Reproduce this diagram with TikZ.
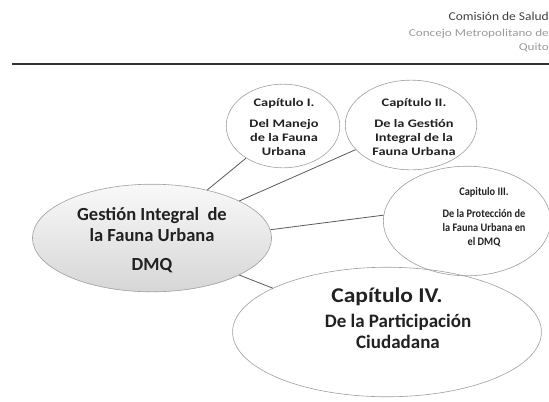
\documentclass[tikz,border=0pt]{standalone}
\usepackage{fontspec}
\setmainfont{Carlito}
\newfontfamily\ancha{Carlito}[FakeStretch=1.25]
\newfontfamily\media{Carlito}[FakeStretch=1.12]
\newfontfamily\estrecha{Carlito}[FakeStretch=0.9]
\usetikzlibrary{shapes.geometric}
\definecolor{tinta}{gray}{0.13}
\definecolor{borde}{gray}{0.62}
\tikzset{
  globo/.style={ellipse, draw=borde, line width=0.6bp, inner sep=0pt},
  texto/.style={align=center, text=tinta, inner sep=0pt},
  enlace/.style={draw=black!65, line width=0.8bp},
  cabecera/.style={anchor=base east, inner sep=0pt}
}
\begin{document}
\begin{tikzpicture}[x=1bp,y=-1bp]
\useasboundingbox (0,0) rectangle (549,401);
% Encabezado
\node[cabecera, text=black!75, font=\media\fontsize{12bp}{14bp}\selectfont] (comision) at (549,20) {Comisión de Salud};
\node[cabecera, text=black!40, font=\ancha\fontsize{10.5bp}{12bp}\selectfont] (concejo) at (549,36) {Concejo Metropolitano de};
\node[cabecera, text=black!40, font=\ancha\fontsize{10.5bp}{12bp}\selectfont] (quito) at (549,50) {Quito};
\draw[line width=1.6bp, black!80] (12,64) -- (549,64);
% Elipses
\node[globo, minimum width=240, minimum height=108, top color=gray!5, bottom color=gray!32] (gestion) at (152,238) {};
\node[globo, minimum width=114, minimum height=84] (cap1) at (283,126) {};
\node[globo, minimum width=132, minimum height=90] (cap2) at (411,125) {};
\node[globo, minimum width=168, minimum height=110] (cap3) at (467,221) {};
\node[globo, minimum width=310, minimum height=130] (cap4) at (387,332) {};
% Textos
\node[texto, font=\bfseries\fontsize{18.5bp}{21bp}\selectfont] (gestiontxt) at (152,240)
  {Gestión Integral\ \ de\\la Fauna Urbana\\[8bp]DMQ};
\node[texto, font=\ancha\bfseries\fontsize{11.5bp}{14bp}\selectfont] (cap1txt) at (284,127)
  {Capítulo I.\\[7bp]Del Manejo\\de la Fauna\\Urbana};
\node[texto, font=\ancha\bfseries\fontsize{11.5bp}{14bp}\selectfont] (cap2txt) at (414,127)
  {Capítulo II.\\[7bp]De la Gestión\\Integral de la\\Fauna Urbana};
\node[texto, font=\estrecha\bfseries\fontsize{11.5bp}{14bp}\selectfont] (cap3txt) at (484,217)
  {Capitulo III.\\[8bp]De la Protección de\\la Fauna Urbana en\\el DMQ};
\node[texto, font=\bfseries\fontsize{19bp}{21bp}\selectfont] (cap4txt) at (398,318)
  {{\media\fontsize{21bp}{23bp}\selectfont Capítulo IV.}\hspace*{22bp}\\[4bp]De la Participación\\Ciudadana};
% Enlaces
\draw[enlace] (gestion.41) -- (cap1.221);
\draw[enlace] (gestion.23) -- (cap2.204);
\draw[enlace] (gestion.4) -- (cap3.176);
\draw[enlace] (gestion.337) -- (cap4.159);
\end{tikzpicture}
\end{document}
